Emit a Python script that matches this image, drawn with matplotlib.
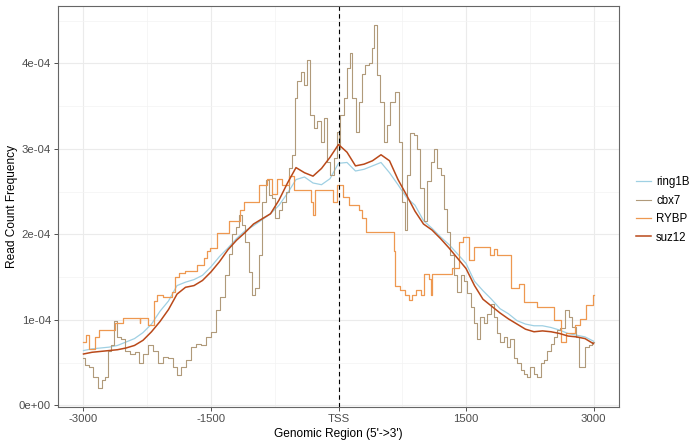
import matplotlib

matplotlib.use("Agg")
import matplotlib.pyplot as plt
import numpy as np

plt.rcParams["font.family"] = ["Liberation Sans", "DejaVu Sans"]

# read count frequency values are in units of 1e-4
positions = np.arange(-3000, 3001, 100)

ring1B = [
    0.64, 0.66, 0.67, 0.68, 0.70, 0.74, 0.78, 0.85, 0.95, 1.10,
    1.22, 1.40, 1.44, 1.47, 1.52, 1.62, 1.74, 1.84, 1.95, 2.04,
    2.10, 2.17, 2.24, 2.34, 2.48, 2.64, 2.67, 2.60, 2.58, 2.65,
    2.83, 2.84, 2.74, 2.76, 2.80, 2.84, 2.72, 2.58, 2.43, 2.34,
    2.16, 2.07, 1.97, 1.88, 1.77, 1.66, 1.45, 1.34, 1.24, 1.13,
    1.07, 0.99, 0.95, 0.93, 0.93, 0.91, 0.88, 0.84, 0.82, 0.80,
    0.75,
]

suz12 = [
    0.60, 0.62, 0.63, 0.64, 0.65, 0.67, 0.70, 0.76, 0.86, 0.98,
    1.12, 1.30, 1.38, 1.40, 1.46, 1.56, 1.68, 1.82, 1.93, 2.02,
    2.12, 2.18, 2.24, 2.40, 2.60, 2.78, 2.72, 2.68, 2.77, 2.90,
    3.05, 2.96, 2.80, 2.82, 2.86, 2.93, 2.86, 2.64, 2.46, 2.27,
    2.12, 2.05, 1.95, 1.84, 1.72, 1.60, 1.40, 1.24, 1.16, 1.08,
    1.01, 0.95, 0.89, 0.86, 0.87, 0.86, 0.84, 0.81, 0.80, 0.78,
    0.72,
]

cbx7_pos = [
    -3000, -2957, -2918, -2859, -2800, -2761, -2722, -2700, -2663, -2624,
    -2584, -2545, -2486, -2427, -2369, -2329, -2271, -2212, -2153, -2094,
    -2035, -1976, -1918, -1878, -1820, -1761, -1702, -1643, -1584, -1525,
    -1467, -1427, -1369, -1310, -1271, -1231, -1192, -1153, -1114, -1075,
    -1035, -996, -957, -918, -878, -839, -800, -761, -722, -682,
    -643, -604, -565, -525, -498, -467, -427, -388, -349, -310,
    -271, -231, -192, -153, -114, -75, -35, 0, 4, 43,
    82, 122, 141, 180, 220, 259, 298, 337, 376, 404,
    435, 467, 514, 553, 592, 631, 690, 729, 769, 788,
    827, 867, 906, 945, 984, 1024, 1063, 1102, 1141, 1180,
    1220, 1259, 1298, 1337, 1376, 1416, 1455, 1494, 1533, 1573,
    1612, 1651, 1690, 1729, 1769, 1808, 1847, 1886, 1925, 1965,
    2004, 2043, 2082, 2122, 2161, 2200, 2239, 2278, 2318, 2357,
    2396, 2435, 2475, 2514, 2553, 2592, 2631, 2690, 2729, 2769,
    2808, 2847, 2886, 2925, 2965, 3000,
]
cbx7 = [
    0.55, 0.47, 0.45, 0.33, 0.20, 0.29, 0.33, 0.64, 0.70, 0.98,
    0.80, 0.78, 0.64, 0.60, 0.62, 0.49, 0.60, 0.70, 0.64, 0.49,
    0.57, 0.55, 0.45, 0.35, 0.45, 0.53, 0.68, 0.72, 0.70, 0.80,
    0.86, 1.12, 1.27, 1.52, 1.77, 2.00, 2.08, 2.22, 2.11, 1.91,
    1.56, 1.29, 1.37, 1.76, 2.38, 2.63, 2.46, 2.42, 2.19, 2.28,
    2.38, 2.50, 2.77, 2.93, 3.59, 3.79, 3.90, 3.75, 4.04, 3.40,
    3.24, 3.32, 3.08, 3.36, 2.85, 2.69, 2.89, 3.20, 3.00, 3.40,
    3.59, 3.94, 4.12, 3.59, 3.20, 3.55, 3.88, 3.98, 4.00, 4.18,
    4.45, 3.86, 3.55, 3.08, 3.28, 3.55, 3.67, 3.08, 2.38, 2.05,
    2.69, 3.18, 3.16, 3.00, 2.54, 2.15, 2.62, 2.85, 3.00, 2.77,
    2.69, 2.30, 2.03, 1.76, 1.52, 1.33, 1.52, 1.45, 1.31, 1.15,
    0.96, 0.78, 1.03, 0.96, 1.07, 1.19, 1.03, 0.84, 0.74, 0.80,
    0.68, 0.78, 0.55, 0.49, 0.41, 0.37, 0.33, 0.45, 0.37, 0.33,
    0.49, 0.53, 0.64, 0.72, 0.80, 0.88, 0.90, 1.11, 1.03, 0.92,
    0.80, 0.45, 0.45, 0.68, 0.70, 0.74,
]

# RYBP is a step profile: value holds from each position to the next
rybp_pos = [
    -3000, -2975, -2930, -2860, -2816, -2635, -2537, -2340, -2330, -2243,
    -2176, -2137, -2059, -1960, -1922, -1882, -1804, -1667, -1588, -1549,
    -1506, -1427, -1290, -1153, -1114, -937, -839, -780, -722, -663,
    -584, -525, -329, -302, -280, -59, -20, 51, 122, 239,
    278, 318, 651, 660, 670, 729, 788, 830, 870, 906,
    965, 1004, 1063, 1090, 1102, 1337, 1416, 1460, 1541, 1592,
    1788, 1827, 1867, 2024, 2122, 2180, 2337, 2533, 2612, 2671,
    2788, 2847, 2906, 2990, 3000,
]
rybp = [
    0.74, 0.82, 0.66, 0.80, 0.88, 0.96, 1.02, 0.96, 1.02, 0.94,
    1.22, 1.29, 1.27, 1.33, 1.50, 1.55, 1.57, 1.64, 1.72, 1.81,
    1.84, 2.01, 2.15, 2.28, 2.38, 2.58, 2.65, 2.47, 2.65, 2.58,
    2.68, 2.52, 2.38, 2.22, 2.52, 2.38, 2.58, 2.44, 2.34, 2.28,
    2.19, 2.03, 1.80, 1.56, 1.40, 1.35, 1.29, 1.23, 1.29, 1.35,
    1.29, 1.54, 1.48, 1.29, 1.54, 1.60, 1.91, 1.97, 1.70, 1.85,
    1.76, 1.83, 1.76, 1.37, 1.42, 1.21, 1.15, 1.00, 0.74, 0.84,
    0.94, 1.01, 1.17, 1.29, 1.29,
]

x_ticks = [-3000, -1500, 0, 1500, 3000]
x_tick_labels = ["-3000", "-1500", "TSS", "1500", "3000"]
y_ticks = [0, 1e-4, 2e-4, 3e-4, 4e-4]
y_tick_labels = ["0e+00", "1e-04", "2e-04", "3e-04", "4e-04"]

colors = {
    "ring1B": "#9fd0e3",
    "cbx7": "#b09a7a",
    "RYBP": "#ee9850",
    "suz12": "#b9491a",
}

fig = plt.figure(figsize=(7, 4.45), dpi=100)
ax = fig.add_axes([58 / 700, 38 / 445, 561 / 700, 401 / 445])

scale = 1e-4
ax.plot(positions, np.asarray(ring1B) * scale, color=colors["ring1B"], lw=0.9, label="ring1B")
ax.plot(cbx7_pos, np.asarray(cbx7) * scale, color=colors["cbx7"], lw=0.8,
        drawstyle="steps-mid", label="cbx7")
ax.plot(rybp_pos, np.asarray(rybp) * scale, color=colors["RYBP"], lw=0.9,
        drawstyle="steps-post", label="RYBP")
ax.plot(positions, np.asarray(suz12) * scale, color=colors["suz12"], lw=1.1, label="suz12")
ax.axvline(0, color="black", lw=0.8, ls=(0, (4, 3)))

ax.set_xlim(-3300, 3300)
ax.set_ylim(-0.02e-4, 4.67e-4)
ax.set_xticks(x_ticks)
ax.set_xticklabels(x_tick_labels)
ax.set_yticks(y_ticks)
ax.set_yticklabels(y_tick_labels)
ax.set_xticks([-2250, -750, 750, 2250], minor=True)
ax.set_yticks(np.arange(0.5e-4, 4.6e-4, 1e-4), minor=True)
ax.grid(True, which="major", color="#ebebeb", lw=0.8)
ax.grid(True, which="minor", color="#f3f3f3", lw=0.5)
ax.set_axisbelow(True)
ax.tick_params(which="major", length=3, width=0.6, color="#333333",
               labelsize=8.2, labelcolor="#4d4d4d", pad=2)
ax.tick_params(which="minor", length=0)
for spine in ax.spines.values():
    spine.set_color("#666666")
    spine.set_linewidth(0.8)

ax.set_xlabel("Genomic Region (5'->3')", fontsize=8.6, labelpad=3)
ax.set_ylabel("Read Count Frequency", fontsize=8.6)
ax.yaxis.set_label_coords(-0.071, 0.5)

fig.legend(loc="center left", bbox_to_anchor=(636 / 700, 235 / 445), frameon=False,
           fontsize=8.3, handlelength=1.3, handletextpad=0.45, labelspacing=0.55,
           borderpad=0, borderaxespad=0)

fig.savefig("out.png", dpi=100)
